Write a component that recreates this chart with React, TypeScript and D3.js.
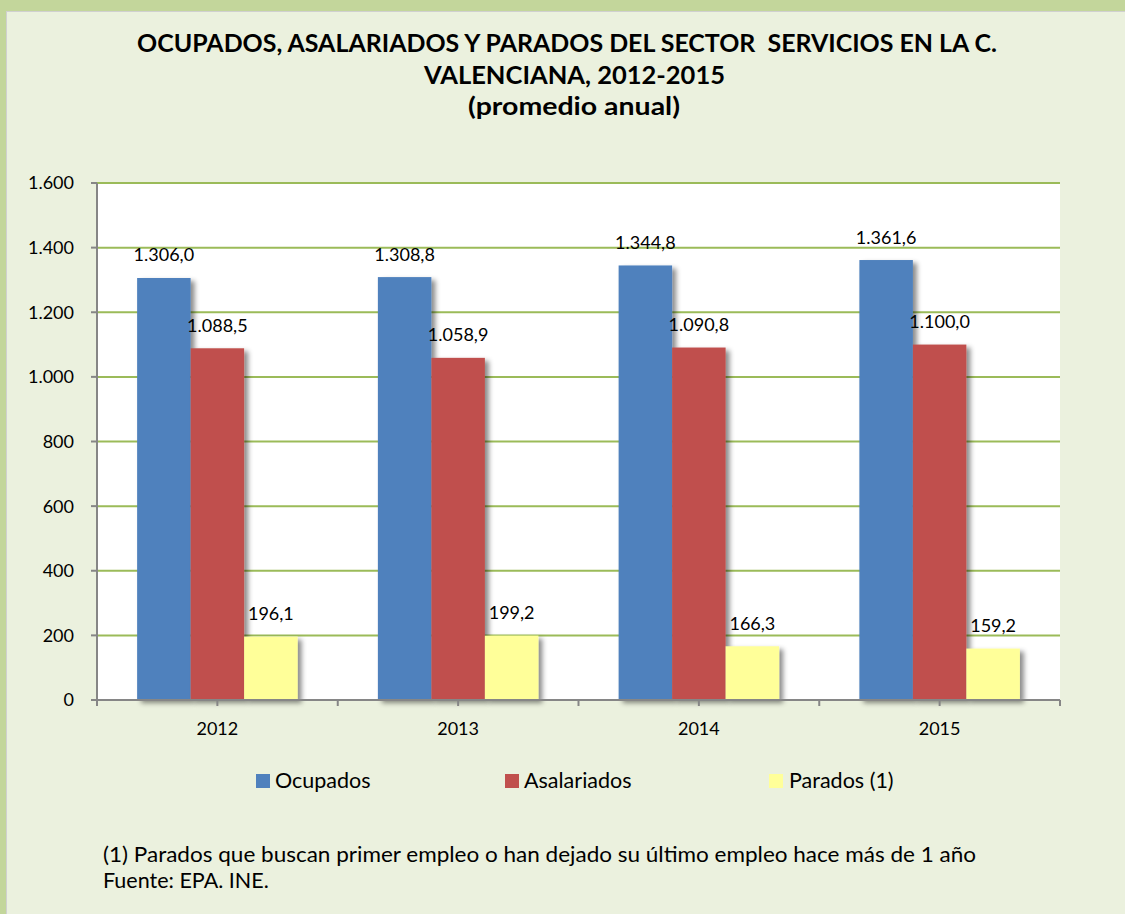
import React from "react";
import * as d3 from "d3";

const years = ["2012", "2013", "2014", "2015"];
const seriesNames = ["Ocupados", "Asalariados", "Parados (1)"];
const ocupados = [1306.0, 1308.8, 1344.8, 1361.6];
const asalariados = [1088.5, 1058.9, 1090.8, 1100.0];
const parados = [196.1, 199.2, 166.3, 159.2];
const seriesColors = ["#4F81BD", "#C0504D", "#FFFF99"];
const yTicks = [0, 200, 400, 600, 800, 1000, 1200, 1400, 1600];
const titleLines = [
  "OCUPADOS, ASALARIADOS Y PARADOS DEL SECTOR  SERVICIOS EN LA C.",
  "VALENCIANA, 2012-2015",
  "(promedio anual)",
];
const footnotes = [
  "(1) Parados que buscan primer empleo o han dejado su último empleo hace más de 1 año",
  "Fuente: EPA. INE.",
];

const W = 1125;
const H = 914;
const FONT = "Lato, 'Open Sans', sans-serif";

const locale = d3.formatLocale({ decimal: ",", thousands: ".", grouping: [3], currency: ["", "€"] });
const fmtVal = locale.format(",.1f");
const fmtTick = locale.format(",d");

export default function App() {
  const left = 97;
  const right = 1060;
  const top = 183;
  const bottom = 700;
  const allSeries = [ocupados, asalariados, parados];

  const x0 = d3.scaleBand<string>().domain(years).range([left, right]).padding(0);
  const bw = x0.bandwidth();
  const x1 = d3
    .scaleBand<string>()
    .domain(seriesNames)
    .range([0, bw])
    .paddingInner(0)
    .paddingOuter(0.75);
  const y = d3.scaleLinear().domain([0, 1600]).range([bottom, top]);

  const xTickPositions: number[] = [];
  years.forEach((yr) => {
    xTickPositions.push(x0(yr)!);
    xTickPositions.push(x0(yr)! + bw / 2);
  });
  xTickPositions.push(right);

  const titleSpecs = [
    { x: 137, y: 52, len: 860 },
    { x: 424, y: 84, len: 301 },
    { x: 468, y: 115, len: 212 },
  ];

  const legendSpecs = [
    { sx: 256, tx: 275 },
    { sx: 505, tx: 524 },
    { sx: 769, tx: 789 },
  ];

  return (
    <div>
      <style>{`body{margin:0}`}</style>
      <svg width={W} height={H} style={{ display: "block" }}>
        <defs>
          <filter id="shadow" x="-20%" y="-10%" width="150%" height="130%">
            <feDropShadow dx="4" dy="3" stdDeviation="2.5" floodColor="#000" floodOpacity="0.45" />
          </filter>
        </defs>
        <rect x={0} y={0} width={W} height={H} fill="#C3D69B" />
        <rect x={6.5} y={11.5} width={W + 20} height={H + 20} fill="#EBF1DE" stroke="#D0D0D0" strokeWidth={1} />

        {/* title */}
        {titleLines.map((t, i) => (
          <text
            key={i}
            x={titleSpecs[i].x}
            y={titleSpecs[i].y}
            fontFamily={FONT}
            fontWeight="bold"
            fontSize={25}
            fill="#000"
            textLength={titleSpecs[i].len}
            lengthAdjust="spacingAndGlyphs"
            style={{ whiteSpace: "pre" }}
          >
            {t}
          </text>
        ))}

        {/* plot area */}
        <rect x={left} y={top} width={right - left} height={bottom - top} fill="#FFFFFF" />
        {yTicks.filter((v) => v > 0).map((v) => (
          <line key={v} x1={left} x2={right} y1={y(v)} y2={y(v)} stroke="#9BBB59" strokeWidth={2} />
        ))}

        {/* bars */}
        {allSeries.map((vals, si) =>
          years.map((yr, ci) => (
            <rect
              key={si + "-" + ci}
              x={x0(yr)! + x1(seriesNames[si])!}
              y={y(vals[ci])}
              width={x1.bandwidth()}
              height={bottom - y(vals[ci])}
              fill={seriesColors[si]}
              filter="url(#shadow)"
            />
          ))
        )}

        {/* axes */}
        <line x1={left} x2={left} y1={top} y2={bottom} stroke="#868686" strokeWidth={2} />
        {yTicks.map((v) => (
          <g key={v}>
            <line x1={left - 6} x2={left} y1={y(v)} y2={y(v)} stroke="#868686" strokeWidth={2} />
            <text
              x={74}
              y={y(v)}
              dy="0.36em"
              textAnchor="end"
              fontFamily={FONT}
              fontSize={18}
              fill="#000"
            >
              {fmtTick(v)}
            </text>
          </g>
        ))}
        <line x1={left} x2={right} y1={bottom} y2={bottom} stroke="#868686" strokeWidth={2} />
        {xTickPositions.map((p, i) => (
          <line key={i} x1={p} x2={p} y1={bottom} y2={bottom + 6} stroke="#868686" strokeWidth={2} />
        ))}
        {years.map((yr) => (
          <text
            key={yr}
            x={x0(yr)! + bw / 2}
            y={735}
            textAnchor="middle"
            fontFamily={FONT}
            fontSize={18}
            fill="#000"
          >
            {yr}
          </text>
        ))}

        {/* data labels */}
        {allSeries.map((vals, si) =>
          years.map((yr, ci) => (
            <text
              key={"l" + si + "-" + ci}
              x={x0(yr)! + x1(seriesNames[si])! + x1.bandwidth() / 2}
              y={y(vals[ci]) - 16.5}
              textAnchor="middle"
              fontFamily={FONT}
              fontSize={18}
              fill="#000"
            >
              {fmtVal(vals[ci])}
            </text>
          ))
        )}

        {/* legend */}
        {seriesNames.map((s, i) => (
          <g key={s}>
            <rect x={legendSpecs[i].sx} y={774} width={14} height={14} fill={seriesColors[i]} />
            <text x={legendSpecs[i].tx} y={788} fontFamily={FONT} fontSize={21.5} fill="#000">
              {s}
            </text>
          </g>
        ))}

        {/* footnotes */}
        <text x={103} y={861.5} fontFamily={FONT} fontSize={21.5} fill="#000" textLength={873} lengthAdjust="spacingAndGlyphs">
          {footnotes[0]}
        </text>
        <text x={103} y={888} fontFamily={FONT} fontSize={21.5} fill="#000">
          {footnotes[1]}
        </text>
      </svg>
    </div>
  );
}
